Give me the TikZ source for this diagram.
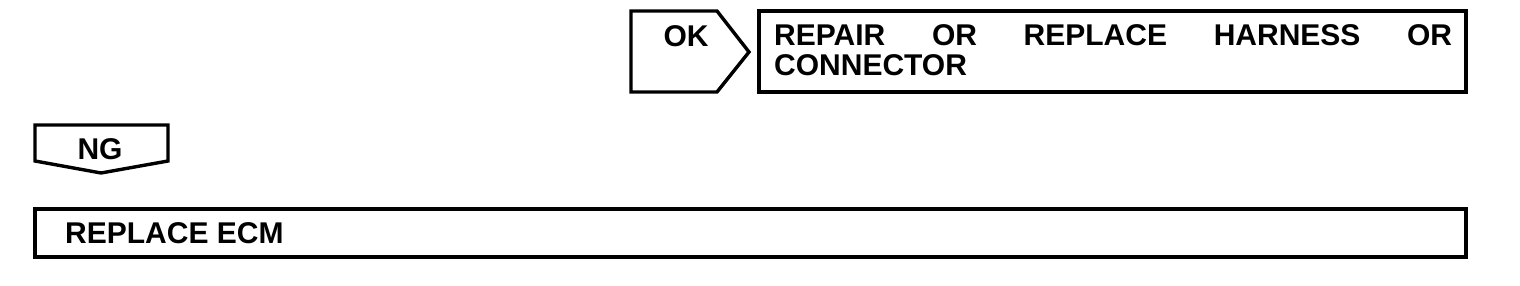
\documentclass[tikz,border=0pt]{standalone}
\usepackage{fontspec}
\setmainfont{Liberation Sans}
\begin{document}
\begin{tikzpicture}[x=1pt,y=1pt,
  shapeline/.style={draw=black,line width=3.4pt,line join=miter},
  lbl/.style={inner sep=0pt,font=\fontsize{30}{30}\selectfont\bfseries}]
\useasboundingbox (0,0) rectangle (1520,286);
% OK arrow
\draw[shapeline] (631,275) -- (717,275) -- (749,234) -- (717,194) -- (631,194) -- cycle;
\node[lbl,anchor=base] (ok) at (686,239) {OK};
% Repair box
\draw[shapeline] (759,194) rectangle (1466,275);
\node[lbl,anchor=base west] (l1) at (774,240) {\makebox[678pt][s]{REPAIR\hfill OR\hfill REPLACE\hfill HARNESS\hfill OR}};
\node[lbl,anchor=base west] (l2) at (774,210) {CONNECTOR};
% NG arrow
\draw[shapeline] (35,161) -- (168,161) -- (168,125) -- (101,113) -- (35,125) -- cycle;
\node[lbl,anchor=base] (ng) at (100,126) {NG};
% Replace ECM box
\draw[shapeline] (35,29) rectangle (1466,77);
\node[lbl,anchor=base west] (ecm) at (65,42) {REPLACE ECM};
\end{tikzpicture}
\end{document}
